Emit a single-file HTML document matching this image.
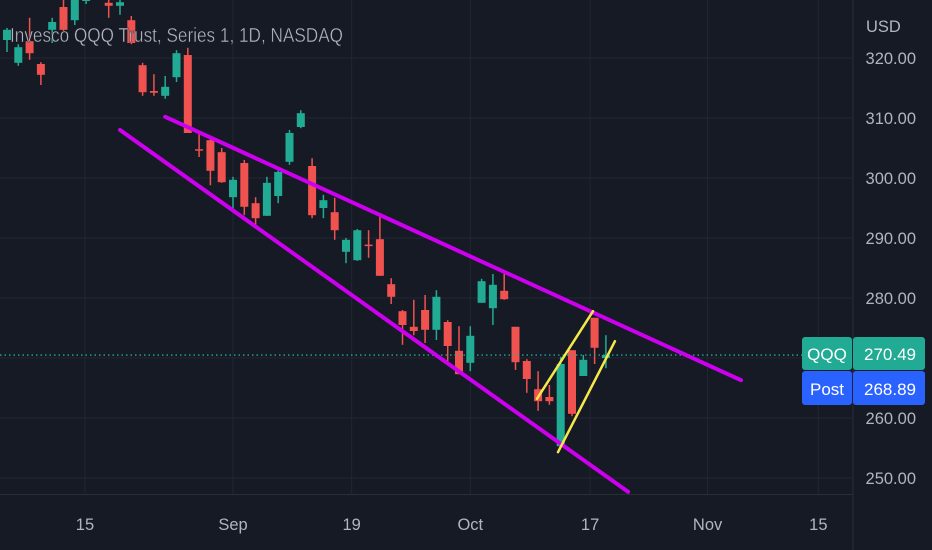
<!DOCTYPE html>
<html><head><meta charset="utf-8"><style>
html,body{margin:0;padding:0;background:#161a25;}
body{position:relative;width:932px;height:550px;overflow:hidden;}
svg{display:block;font-family:"Liberation Sans",sans-serif;}
</style></head><body>
<svg id="chart" width="932" height="550" viewBox="0 0 932 550" xmlns="http://www.w3.org/2000/svg">
<rect x="0" y="0" width="932" height="550" fill="#161a25"/>
<g id="grid"></g>
<g id="lines"></g>
<g id="candles"></g>
<g id="overlay"></g>
<g id="axes"></g>
</svg>
<script>
const opens  = [323,319.2,322.8,319,324.7,328.5,326.3,329.5,333,329.2,328.7,326.3,318.8,314.5,313.7,316.8,320.5,304.8,306.3,304.3,296.8,302.5,295.8,293.7,297,302.7,308.5,302,295,294.3,287.7,286.3,288.9,289.8,282.3,277.8,275.2,278,274.7,276,271.2,269.2,279.2,278.3,281.2,275.2,269.5,264.8,263.5,255.3,271.3,267,276.7,270];
const highs  = [325,322.3,326.7,319.3,326.7,330.5,333,331,336,330.5,330,327,319.2,317.3,317,321.3,321.7,307.5,306.7,305,300.2,303,296.8,300.2,301.3,308,311.3,303.3,297.2,296.7,290,291.5,291.3,293.5,283.3,278,279.7,280.5,281.3,276.3,275.3,275.3,283.2,284,284,275.2,269.8,267.8,265.5,270.2,271.3,270.5,276.7,273.8];
const lows   = [321,318.7,319.7,315.5,322.5,324.5,325.5,329,331,326.7,327.2,322.3,313.7,313.7,313.2,316,307.5,303.5,298.8,299.2,294.7,293.8,291.7,293.7,295.8,302.2,308.3,293.3,293.3,289.7,285.8,286.2,286.7,283.7,279,272.2,273.8,272.5,273,269.2,267.3,267.8,279.2,275.5,279.7,268,264.2,261.2,262.2,255.3,260.3,267,269,268.3];
const closes = [324.7,321.8,320.8,317.2,326,324.7,331,331,335,328.7,329.3,322.5,314.3,314.2,315.2,320.8,307.5,304.6,301.2,299.3,299.7,295.2,293.3,299.2,301,307.5,310.8,293.8,296.3,291.3,289.7,291.3,288.7,283.7,280.2,275.5,274.5,274.7,280.2,272,267.3,273.7,282.8,282.2,279.8,269.3,266.5,262.8,262.8,269,260.7,269.7,271.7,270.5];
const priceTicks = [320,310,300,290,280,270,260,250];
const priceTickLabels = ["320.00","310.00","300.00","290.00","280.00","","260.00","250.00"];
const dateTickIdx = [6.9,20,30.5,41,51.6,62,71.8];
const dateTickLabels = ["15","Sep","19","Oct","17","Nov","15"];
const upperLine = [[14,310.2],[64.96,266.3]];
const lowerLine = [[10,308],[54.96,247.7]];
const yellowLine1 = [[46.9,263.2],[51.86,277.8]];
const yellowLine2 = [[48.76,254.3],[53.8,272.8]];
const lastPrice = 270.49, postPrice = 268.89;

const NS="http://www.w3.org/2000/svg";
const xS = i => 7 + i*11.3;
const yS = p => 58 + (320-p)*6;
function mk(tag, attrs, parent, text){
  const e=document.createElementNS(NS,tag);
  for(const k in attrs) e.setAttribute(k,attrs[k]);
  if(text!==undefined) e.textContent=text;
  parent.appendChild(e); return e;
}
const grid=document.getElementById('grid'),
      candles=document.getElementById('candles'), overlay=document.getElementById('overlay'),
      axes=document.getElementById('axes');
priceTicks.forEach(p=>{
  const l=mk('line',{x1:0,x2:853,y1:yS(p),y2:yS(p),stroke:'#232632','stroke-width':1},grid);
  
  
});
dateTickIdx.forEach(d=>{
  const l=mk('line',{x1:xS(d),x2:xS(d),y1:0,y2:494,stroke:'#232632','stroke-width':1},grid);
  
  
});
for(let i=0;i<opens.length;i++){
  const up=closes[i]>=opens[i], col=up?'#22ab94':'#f0524f';
  const g=mk('g',{},candles);
  
  
  const x=xS(i);
  mk('line',{x1:x,x2:x,y1:yS(highs[i]),y2:yS(lows[i]),stroke:col,'stroke-width':1.5},g);
  const top=yS(Math.max(opens[i],closes[i])), bot=yS(Math.min(opens[i],closes[i]));
  mk('rect',{x:x-4,y:top,width:8,height:Math.max(1.5,bot-top),fill:col},g);
}
const dl=mk('line',{x1:0,x2:853,y1:yS(lastPrice),y2:yS(lastPrice),stroke:'#22ab94','stroke-width':1.3,'stroke-dasharray':'1.5 3'},overlay);


function seg(pts,col,w,name){
  const l=mk('line',{x1:xS(pts[0][0]),y1:yS(pts[0][1]),x2:xS(pts[1][0]),y2:yS(pts[1][1]),stroke:col,'stroke-width':w,'stroke-linecap':'round'},overlay);
  
  
}
seg(upperLine,'#cc00ee',4,'upper-wedge-line');
seg(lowerLine,'#cc00ee',4,'lower-wedge-line');
seg(yellowLine1,'#f5e94a',2.5,'flag-upper-line');
seg(yellowLine2,'#f5e94a',2.5,'flag-lower-line');
mk('rect',{x:853,y:0,width:79,height:550,fill:'#161a25'},axes);
mk('rect',{x:0,y:494,width:853,height:56,fill:'#161a25'},axes);
mk('line',{x1:853,x2:853,y1:0,y2:550,stroke:'#2a2e39','stroke-width':1},axes);
mk('line',{x1:0,x2:853,y1:494.5,y2:494.5,stroke:'#2a2e39','stroke-width':1},axes);
priceTicks.forEach((p,k)=>{
  if(!priceTickLabels[k]) return;
  const t=mk('text',{x:916,y:yS(p)+6,fill:'#b2b5be','font-size':16.5,'text-anchor':'end'},axes,priceTickLabels[k]);
  
  
});
dateTickIdx.forEach((d,k)=>{
  const t=mk('text',{x:xS(d),y:530,fill:'#b2b5be','font-size':16.5,'text-anchor':'middle'},axes,dateTickLabels[k]);
  
  
});
</script>
<svg style="position:absolute;left:0;top:0" width="932" height="550">
  <text x="866" y="32" fill="#b2b5be" font-size="16.5">USD</text>
  <text x="10" y="42" fill="#b2b5be" font-size="20" textLength="333" lengthAdjust="spacingAndGlyphs" stroke="#161a25" stroke-width="0.4">Invesco QQQ Trust, Series 1, 1D, NASDAQ</text>
  <g>
    <rect x="802" y="337" width="50" height="33" rx="3" fill="#22ab94"/>
    <rect x="853" y="337" width="72" height="33" rx="3" fill="#22ab94"/>
    <text x="827" y="360" fill="#fff" font-size="17" text-anchor="middle">QQQ</text>
    <text x="916" y="360" fill="#fff" font-size="17" text-anchor="end">270.49</text>
  </g>
  <g>
    <rect x="802" y="371" width="50" height="34" rx="3" fill="#2962ff"/>
    <rect x="853" y="371" width="72" height="34" rx="3" fill="#2962ff"/>
    <text x="827" y="395" fill="#fff" font-size="17" text-anchor="middle">Post</text>
    <text x="916" y="395" fill="#fff" font-size="17" text-anchor="end">268.89</text>
  </g>
</svg>
</body></html>
